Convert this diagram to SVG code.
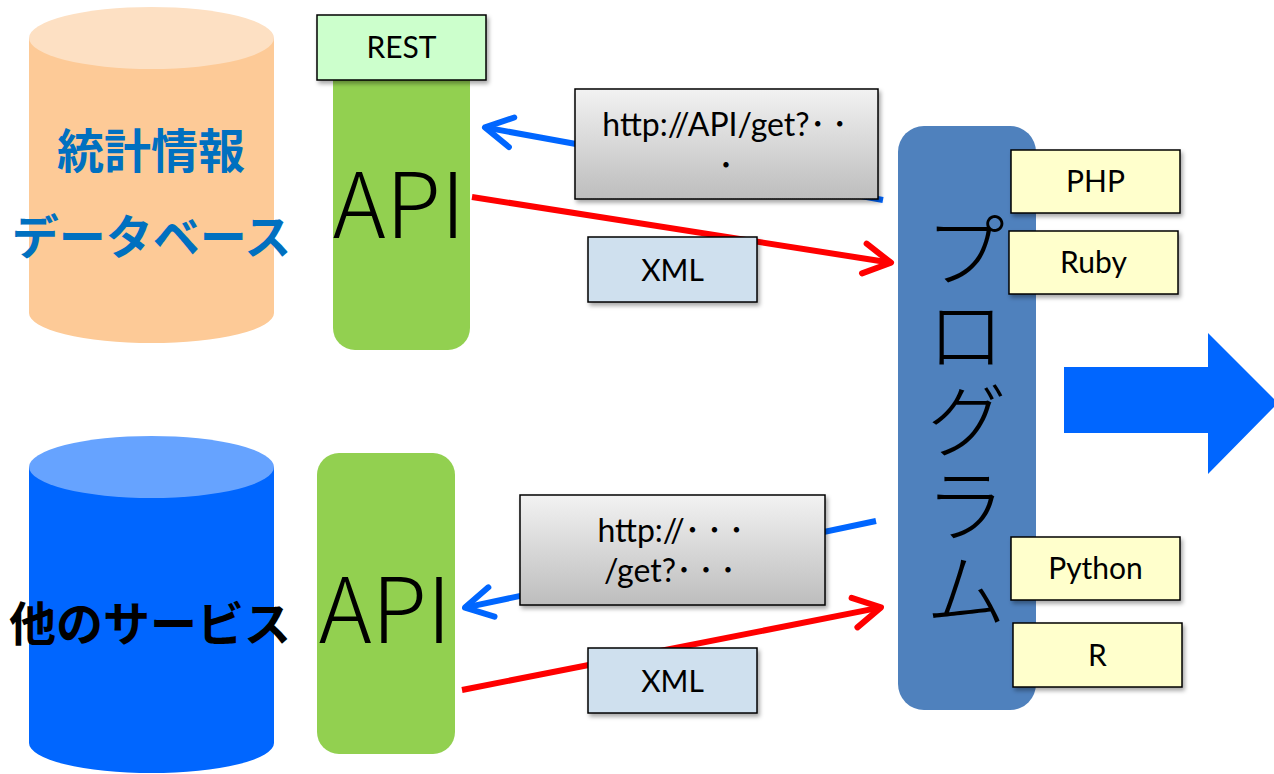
<svg xmlns="http://www.w3.org/2000/svg" width="1274" height="774" viewBox="0 0 1274 774">
  <defs>
    <style>
      .lbl { font-family: Lato, "Noto Sans CJK JP", sans-serif; font-size: 30px; fill: #000; text-anchor: middle; }
      .url { font-size: 32px; }
      .dots { letter-spacing: 6px; }
      .jp { font-family: "Noto Sans CJK JP", sans-serif; font-weight: bold; font-size: 47px; text-anchor: middle; }
      .thin { font-family: "Noto Sans CJK JP", sans-serif; font-weight: 300; fill: #000; text-anchor: middle; }
      .vert { writing-mode: vertical-rl; text-anchor: start; letter-spacing: 3px; }
      .box { stroke: #000; stroke-width: 1.5; filter: url(#shadow); }
      .green { fill: #92d050; }
      .req { fill: none; stroke: #0066ff; stroke-width: 6; marker-end: url(#headBlue); }
      .res { fill: none; stroke: #ff0000; stroke-width: 6; marker-end: url(#headRed); }
    </style>
    <filter id="shadow" x="-10%" y="-10%" width="130%" height="140%">
      <feDropShadow dx="2" dy="3" stdDeviation="2" flood-color="#000" flood-opacity="0.35"/>
    </filter>
    <linearGradient id="grayFill" x1="0" y1="0" x2="0" y2="1">
      <stop offset="0" stop-color="#f2f2f2"/>
      <stop offset="1" stop-color="#bdbdbd"/>
    </linearGradient>
    <marker id="headBlue" markerUnits="userSpaceOnUse" viewBox="-34 -20 40 40" refX="0" refY="0" markerWidth="40" markerHeight="40" orient="auto" overflow="visible">
      <path d="M-27,-15 L0,0 L-27,15" fill="none" stroke="#0066ff" stroke-width="6" stroke-linecap="round" stroke-linejoin="round"/>
    </marker>
    <marker id="headRed" markerUnits="userSpaceOnUse" viewBox="-34 -20 40 40" refX="0" refY="0" markerWidth="40" markerHeight="40" orient="auto" overflow="visible">
      <path d="M-27,-15 L0,0 L-27,15" fill="none" stroke="#ff0000" stroke-width="6" stroke-linecap="round" stroke-linejoin="round"/>
    </marker>
  </defs>

  <rect width="1274" height="774" fill="#ffffff"/>

  <!-- statistics database cylinder -->
  <g id="stats-db">
    <path d="M29,38 V313 A122.5,30 0 0 0 274,313 V38 Z" fill="#fdca97"/>
    <ellipse cx="151.5" cy="38" rx="122.5" ry="31" fill="#fde0c3"/>
    <text class="jp" x="151" y="168" fill="#0070c0">統計情報</text>
    <text class="jp" x="151.5" y="254" fill="#0070c0">データベース</text>
  </g>

  <!-- other service cylinder -->
  <g id="other-service">
    <path d="M29,467 V743 A122.5,30 0 0 0 274,743 V467 Z" fill="#0066ff"/>
    <ellipse cx="151.5" cy="467" rx="122.5" ry="31" fill="#66a3ff"/>
    <text class="jp" x="150" y="641" fill="#000">他のサービス</text>
  </g>

  <!-- API pillars -->
  <g id="api-top">
    <rect class="green" x="333" y="58" width="137" height="292" rx="22"/>
    <text class="thin" x="399" y="238" font-size="90">API</text>
  </g>
  <g id="rest">
    <rect class="box" x="317" y="15" width="169" height="65" fill="#ccffcc"/>
    <text class="lbl" x="401.5" y="58">REST</text>
  </g>
  <g id="api-bottom">
    <rect class="green" x="317" y="453" width="138" height="301" rx="22"/>
    <text class="thin" x="385" y="643" font-size="90">API</text>
  </g>

  <!-- requests and responses -->
  <g id="connectors">
    <line class="req" x1="883" y1="200" x2="485" y2="127.4"/>
    <line class="res" x1="472" y1="197" x2="891" y2="262.7"/>
    <line class="req" x1="876" y1="521" x2="465" y2="607.6"/>
    <line class="res" x1="462" y1="690" x2="881" y2="607.4"/>
  </g>

  <!-- request / response labels -->
  <g id="url-top">
    <rect class="box" x="575" y="89" width="303" height="110" fill="url(#grayFill)"/>
    <text class="lbl url" x="728" y="136">http://API/get?<tspan class="dots">･･</tspan></text>
    <text class="lbl url" x="726" y="177">･</text>
  </g>
  <g id="xml-top">
    <rect class="box" x="588" y="237" width="169" height="65" fill="#cfe0ee"/>
    <text class="lbl" x="672.5" y="281">XML</text>
  </g>
  <g id="url-bottom">
    <rect class="box" x="520" y="495" width="305" height="110" fill="url(#grayFill)"/>
    <text class="lbl url" x="674" y="542">http://<tspan class="dots">･･･</tspan></text>
    <text class="lbl url" x="673" y="582">/get?<tspan class="dots">･･･</tspan></text>
  </g>
  <g id="xml-bottom">
    <rect class="box" x="588" y="648" width="169" height="65" fill="#cfe0ee"/>
    <text class="lbl" x="672.5" y="692">XML</text>
  </g>

  <!-- program column -->
  <g id="program">
    <rect x="898" y="126" width="138" height="584" rx="26" fill="#4f81bd"/>
    <text class="thin vert" x="966" y="209" font-size="82">プログラム</text>
  </g>
  <g id="php">
    <rect class="box" x="1011" y="150" width="169" height="63" fill="#ffffcc"/>
    <text class="lbl" x="1095.5" y="192">PHP</text>
  </g>
  <g id="ruby">
    <rect class="box" x="1009" y="231" width="169" height="63" fill="#ffffcc"/>
    <text class="lbl" x="1093.5" y="273">Ruby</text>
  </g>
  <g id="python">
    <rect class="box" x="1011" y="537" width="169" height="63" fill="#ffffcc"/>
    <text class="lbl" x="1095.5" y="579">Python</text>
  </g>
  <g id="r">
    <rect class="box" x="1013" y="623" width="169" height="64" fill="#ffffcc"/>
    <text class="lbl" x="1097.5" y="666">R</text>
  </g>

  <!-- output arrow -->
  <g id="output-arrow">
    <polygon points="1064,367 1208,367 1208,333 1278,403 1208,474 1208,433 1064,433" fill="#0066ff"/>
  </g>
</svg>
